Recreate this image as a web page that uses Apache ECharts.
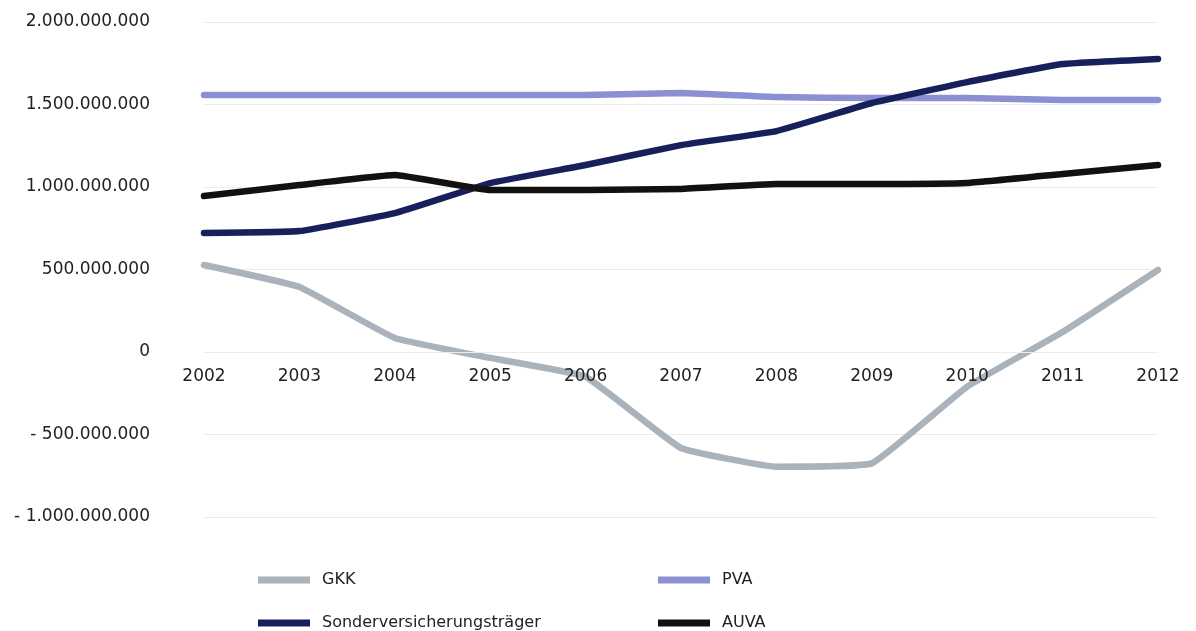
<!DOCTYPE html>
<html>
<head>
<meta charset="utf-8">
<script src="https://cdn.jsdelivr.net/npm/echarts@6/dist/echarts.min.js"></script>
<style>
  html, body { margin: 0; padding: 0; background: #fff; }
  #chart { width: 1196px; height: 631px; }
</style>
</head>
<body>
<div id="chart"></div>
<script>
// Jahre
var years = ["2002", "2003", "2004", "2005", "2006", "2007", "2008", "2009", "2010", "2011", "2012"];
// Werte (Euro)
var gkk = [527e6, 394e6, 85e6, -36e6, -150e6, -582e6, -695e6, -675e6, -210e6, 121e6, 497e6];
var pva = [1557e6, 1557e6, 1557e6, 1557e6, 1557e6, 1570e6, 1545e6, 1539e6, 1539e6, 1527e6, 1527e6];
var sonder = [721e6, 733e6, 842e6, 1024e6, 1133e6, 1254e6, 1339e6, 1509e6, 1636e6, 1745e6, 1776e6];
var auva = [945e6, 1012e6, 1073e6, 982e6, 982e6, 988e6, 1018e6, 1018e6, 1024e6, 1079e6, 1133e6];
var yTicks = [-1e9, -5e8, 0, 5e8, 1e9, 1.5e9, 2e9];

var names = ["GKK", "PVA", "Sonderversicherungsträger", "AUVA"];
var colors = ["#aab2bb", "#8a90d2", "#17205a", "#111111"];

function fmt(v) {
  var s = Math.abs(v).toFixed(0).replace(/\B(?=(\d{3})+(?!\d))/g, ".");
  return v < 0 ? "- " + s : s;
}

function mkLegend(name, left, top) {
  return {
    data: [{ name: name, icon: "rect" }],
    left: left,
    top: top,
    itemWidth: 52,
    itemHeight: 7,
    itemGap: 0,
    textStyle: { fontFamily: "DejaVu Sans", fontSize: 16, color: "#222", padding: [0, 0, 0, 7] }
  };
}

function mkSeries(i, data) {
  return {
    name: names[i],
    type: "line",
    data: data,
    symbol: "none",
    smooth: 0.1,
    lineStyle: { width: 6.5, color: colors[i], cap: "round", join: "round" },
    itemStyle: { color: colors[i] }
  };
}

var gridTop = 22, gridBottom = 114, chartH = 631;
var plotH = chartH - gridTop - gridBottom;
// Abstand der Nulllinie vom unteren Rand der Zeichenfläche (Rubriken stehen auf der Nulllinie)
var zeroShift = plotH * (0 - yTicks[0]) / (yTicks[yTicks.length - 1] - yTicks[0]);

var chart = echarts.init(document.getElementById("chart"));
chart.setOption({
  animation: false,
  color: colors,
  grid: { left: 204, right: 38, top: gridTop, bottom: gridBottom, containLabel: false },
  legend: [
    mkLegend(names[0], 253, 567),
    mkLegend(names[1], 653, 567),
    mkLegend(names[2], 253, 610),
    mkLegend(names[3], 653, 610)
  ],
  xAxis: {
    type: "category",
    data: years,
    boundaryGap: false,
    offset: -zeroShift,
    z: 5,
    axisLine: { show: true, onZero: false, lineStyle: { color: "#ececec", width: 1 } },
    axisTick: { show: false },
    axisLabel: { fontFamily: "DejaVu Sans", fontSize: 17, color: "#222", margin: 16 },
    splitLine: { show: false }
  },
  yAxis: {
    type: "value",
    min: yTicks[0],
    max: yTicks[yTicks.length - 1],
    interval: 5e8,
    axisLine: { show: false },
    axisTick: { show: false },
    axisLabel: { fontFamily: "DejaVu Sans", fontSize: 17, color: "#222", margin: 54, formatter: fmt },
    splitLine: { show: true, lineStyle: { color: "#ececec", width: 1 } }
  },
  series: [
    mkSeries(0, gkk),
    mkSeries(1, pva),
    mkSeries(2, sonder),
    mkSeries(3, auva)
  ]
});
</script>
</body>
</html>
